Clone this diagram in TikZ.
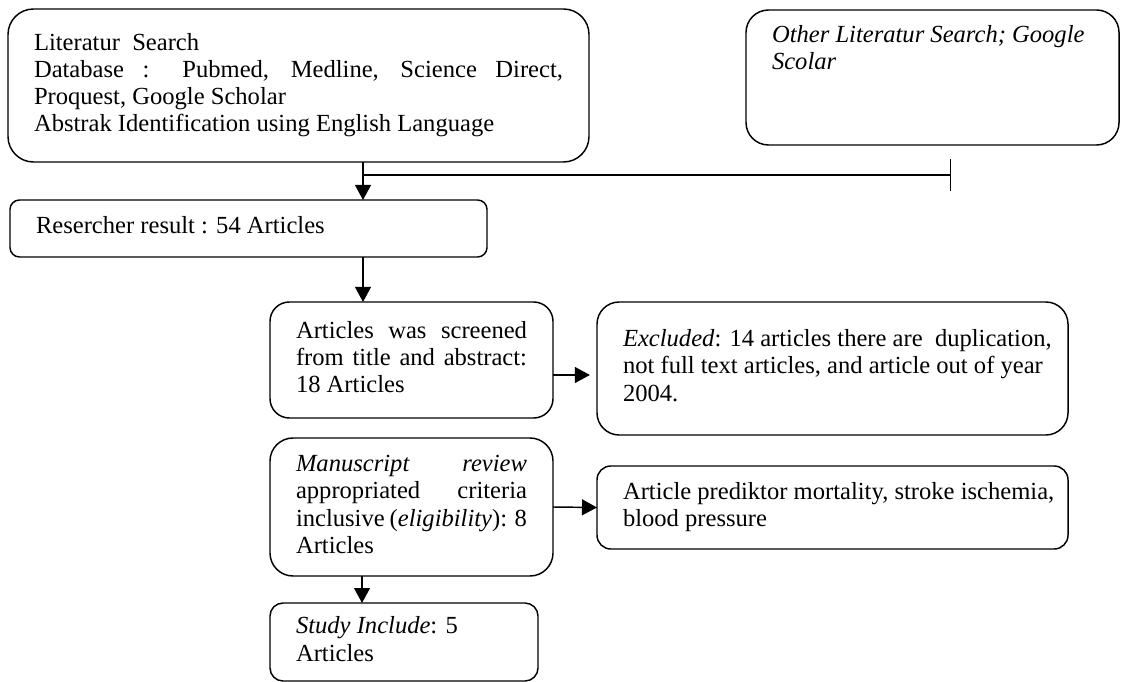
\documentclass[tikz,border=0pt]{standalone}
\usepackage{fontspec}
\setmainfont{Liberation Serif}
\usetikzlibrary{arrows.meta}
\newdimen\pxu \pxu=0.48pt
\tikzset{
  fbx/.style={draw, line width=0.7pt, anchor=north west, inner xsep=12.48pt,
    inner ysep=6.24pt, outer sep=0pt, font=\fontsize{11.8}{13.1}\selectfont},
  conn/.style={line width=0.7pt},
  arr/.style={conn, -{Triangle[length=7.2pt, width=7.6pt]}},
}
\newcommand{\flowbox}[7]{%
  \pgfmathsetmacro\bw{#4-#2}%
  \pgfmathsetmacro\bh{#5-#3}%
  \pgfmathsetmacro\brpt{min(\bw,\bh)/6*0.48}%
  \node[fbx, rounded corners=\brpt pt] (#1) at (#2,#3)
    {\parbox[t][\dimexpr\bh\pxu-26\pxu\relax][#6]{\dimexpr\bw\pxu-52\pxu\relax}{\hyphenpenalty=10000\strut #7\strut}};%
}
\begin{document}
\begin{tikzpicture}[x=0.48pt, y=-0.48pt]
\useasboundingbox (0,0) rectangle (1121,682);

\flowbox{search}{8}{9}{589}{162}{c}{Literatur\ \ Search\\
\makebox[\linewidth][s]{Database : Pubmed, Medline, Science Direct,}\\
Proquest, Google Scholar\\
Abstrak Identification using English Language}

\flowbox{other}{746}{10}{1119}{145}{t}{\mbox{\textit{Other Literatur Search; Google}}\\
\textit{Scolar}}

\flowbox{result}{10}{200}{487}{257}{c}{Resercher result : 54 Articles}

\flowbox{screened}{270}{302}{553}{418}{c}{\makebox[\linewidth][s]{Articles was screened}\\
\makebox[\linewidth][s]{from title and abstract:}\\
18 Articles}

\flowbox{excluded}{597}{302}{1068}{435}{c}{\mbox{\textit{Excluded}: 14 articles there are\ \ duplication,}\\
\mbox{not full text articles, and article out of year}\\
2004.}

\flowbox{manuscript}{270}{438}{553}{576}{c}{\makebox[\linewidth][s]{\textit{Manuscript} \textit{review}}\\
\makebox[\linewidth][s]{appropriated criteria}\\
\makebox[\linewidth][s]{inclusive (\textit{eligibility}): 8}\\
Articles}

\flowbox{article}{597}{466}{1068}{549}{c}{\mbox{Article prediktor mortality, stroke ischemia,}\\
blood pressure}

\flowbox{study}{270}{603}{538}{681}{c}{\textit{Study Include}: 5\\
Articles}

% connectors
\coordinate (spine) at (363,0);
\coordinate (spineb) at (362,0);
\coordinate (jn) at (363,175);
\coordinate (barend) at (951,175);
\coordinate (exy) at (0,375);

\draw[arr] (search.south -| spine) -- (result.north -| spine);
\draw[conn, -{Bar[width=15.4pt]}] (jn) -- (barend);
\draw[arr] (result.south -| spine) -- (screened.north -| spine);
\draw[arr, shorten >=3.4pt] (screened.east |- exy) -- (excluded.west |- exy);
\draw[arr] (manuscript.east) -- (article.west);
\draw[arr] (manuscript.south -| spineb) -- (study.north -| spineb);
\end{tikzpicture}
\end{document}
